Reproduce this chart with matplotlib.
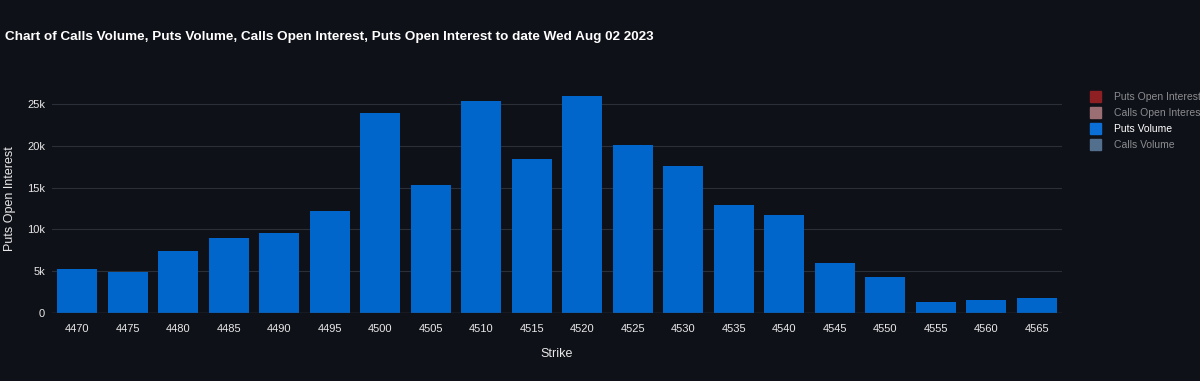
import numpy as np
import matplotlib
matplotlib.use('Agg')
import matplotlib.pyplot as plt
from matplotlib.ticker import FuncFormatter

strikes = ['4470', '4475', '4480', '4485', '4490', '4495', '4500', '4505', '4510', '4515',
           '4520', '4525', '4530', '4535', '4540', '4545', '4550', '4555', '4560', '4565']
puts_volume = [5300, 4900, 7400, 9000, 9600, 12200, 23900, 15300, 25400, 18400,
               26000, 20100, 17600, 12900, 11700, 6000, 4300, 1300, 1600, 1800]

legend_names = ['Puts Open Interest', 'Calls Open Interest', 'Puts Volume', 'Calls Volume']
legend_colors = ['#8e1f22', '#9a6e72', '#0a6fd6', '#52708e']
legend_visible = [False, False, True, False]

bg = '#0f1118'
plt.rcParams['font.family'] = ['Liberation Sans', 'DejaVu Sans']

fig = plt.figure(figsize=(12, 3.81), dpi=100, facecolor=bg)
ax = fig.add_axes([0.0433, 0.1785, 0.8417, 0.601], facecolor=bg)

x = np.arange(len(strikes))
ax.bar(x, puts_volume, width=0.8, color='#0066cc', zorder=3)

ax.set_xlim(-0.5, len(strikes) - 0.5)
ax.set_ylim(0, 27400)
ax.set_yticks([0, 5000, 10000, 15000, 20000, 25000])
ax.yaxis.set_major_formatter(FuncFormatter(lambda v, p: '0' if v == 0 else '%dk' % (v / 1000)))
ax.set_xticks(x)
ax.set_xticklabels(strikes)
ax.grid(axis='y', color='#2b2f38', linewidth=0.8, zorder=0)
ax.axhline(0, color='#3a3e48', linewidth=1, zorder=4)
for s in ax.spines.values():
    s.set_visible(False)
ax.tick_params(colors='#e8e8e8', labelsize=8, length=0, pad=8)
ax.tick_params(axis='y', pad=5)
ax.set_xlabel('Strike', color='#e8e8e8', fontsize=9, labelpad=10)
ax.set_ylabel('Puts Open Interest', color='#e8e8e8', fontsize=9, labelpad=8)

# title, slightly condensed like the original
fig.text(0.004, 0.903, 'Chart of Calls Volume, Puts Volume, Calls Open Interest, Puts Open Interest to date Wed Aug 02 2023',
         color='white', fontsize=9.7, fontweight='bold', va='center')

# legend drawn by hand (hidden traces are greyed out)
for i, (name, col, vis) in enumerate(zip(legend_names, legend_colors, legend_visible)):
    yy = 1 - (97 + 16 * i) / 381
    fig.patches.append(plt.Rectangle((1090 / 1200, yy - 5 / 381), 11 / 1200, 11 / 381,
                                     transform=fig.transFigure, color=col, figure=fig))
    fig.text(1114 / 1200, yy, name, color='white' if vis else '#8a8c90', fontsize=7.5, va='center')

fig.savefig('out.png', dpi=100, facecolor=bg)
